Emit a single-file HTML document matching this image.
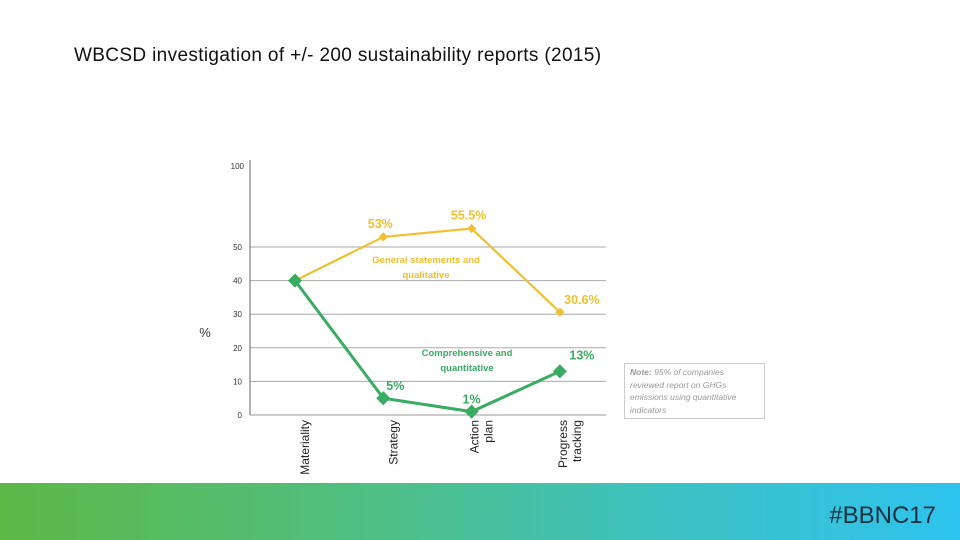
<!DOCTYPE html>
<html><head><meta charset="utf-8">
<style>
body{margin:0;width:960px;height:540px;background:#fff;overflow:hidden;position:relative;font-family:"Liberation Sans",sans-serif}
#title{position:absolute;left:74px;top:45px;font-size:19px;color:#111;letter-spacing:0.35px}
#band{position:absolute;left:0;top:483px;width:960px;height:57px;background:linear-gradient(90deg,#5db846 0%,#4fbf86 40%,#3cc2c4 70%,#2ec3ee 100%)}
#tag{position:absolute;right:24px;top:502px;font-size:24px;color:#1a3040}
#note{position:absolute;left:624px;top:363px;width:141px;height:56px;border:1px solid #ccc;box-sizing:border-box;padding:2px 5px;font-size:8.5px;line-height:12.5px;color:#999;font-style:italic}
</style></head><body>
<div id="title">WBCSD investigation of +/- 200 sustainability reports (2015)</div>
<svg id="chart" width="960" height="540" style="position:absolute;left:0;top:0"></svg>
<div id="note"><b>Note:</b> 95% of companies reviewed report on GHGs emissions using quantitative indicators</div>
<div id="band"></div>
<div id="tag">#BBNC17</div>
<script>
const categories=["Materiality","Strategy","Action plan","Progress tracking"];
const generalValues=[40,53,55.5,30.6];
const generalLabels=["","53%","55.5%","30.6%"];
const compValues=[40,5,1,13];
const compLabels=["","5%","1%","13%"];
const yTicks=[0,10,20,30,40,50];
const svg=document.getElementById('chart');
const NS='http://www.w3.org/2000/svg';
const x0=295,dx=88.3;
const xs=i=>x0+i*dx;
const ys=v=>415-v*3.36;
function mk(t,a,parent){const e=document.createElementNS(NS,t);for(const k in a)e.setAttribute(k,a[k]);(parent||svg).appendChild(e);return e;}
yTicks.forEach(t=>{
 if(t>0){const g=mk('line',{x1:250,x2:606,y1:ys(t),y2:ys(t),stroke:'#aaa','stroke-width':1});
 
 }
 const l=mk('text',{x:242,y:ys(t)+3,'font-size':8,'text-anchor':'end',fill:'#333'});l.textContent=t;
 
 
});
const top100=mk('text',{x:244,y:169,'font-size':8,'text-anchor':'end',fill:'#333'});top100.textContent='100';


const ax=mk('line',{x1:250,x2:250,y1:160,y2:415,stroke:'#666','stroke-width':1});


const bx=mk('line',{x1:250,x2:606,y1:415,y2:415,stroke:'#999','stroke-width':1});


const yt=mk('text',{x:205,y:337,'font-size':13,'text-anchor':'middle',fill:'#333'});yt.textContent='%';


categories.forEach((c,i)=>{
 const words=c.split(' ');
 const g=mk('g',{transform:`translate(${xs(i)+10},420) rotate(-90)`});
 
 
 words.forEach((w,j)=>{const t=mk('text',{x:0,y:(j-(words.length-1)/2)*14+4,'font-size':12,'text-anchor':'end',fill:'#222'},g);t.textContent=w;});
});
function series(vals,labels,color,w,sz,name){
 const p=mk('polyline',{points:vals.map((v,i)=>xs(i)+','+ys(v)).join(' '),fill:'none',stroke:color,'stroke-width':w});
 
 
 vals.forEach((v,i)=>{
  const m=mk('rect',{x:xs(i)-sz,y:ys(v)-sz,width:sz*2,height:sz*2,fill:color,transform:`rotate(45 ${xs(i)} ${ys(v)})`});
  
  
  if(labels[i]){const t=mk('text',{x:xs(i)+(i==3?22:(i==1&&name=='comp'?12:(name=='general'?-3:0))),y:ys(v)-(name=='comp'&&i==3?12:(name=='general'&&i<3?9:8)),'font-size':12.5,'font-weight':'bold','text-anchor':'middle',fill:color});t.textContent=labels[i];
  
  }
 });
}
series(generalValues,generalLabels,'#f0c030',2.2,3.3,'general');
series(compValues,compLabels,'#3aab63',3,5,'comp');
[['General statements and',426,263,'#f0c030'],['qualitative',426,278,'#f0c030'],['Comprehensive and',467,356,'#3aab63'],['quantitative',467,371,'#3aab63']].forEach(a=>{
 const t=mk('text',{x:a[1],y:a[2],'font-size':9.5,'font-weight':'bold','text-anchor':'middle',fill:a[3]});t.textContent=a[0];
 
 
});
</script>
</body></html>
